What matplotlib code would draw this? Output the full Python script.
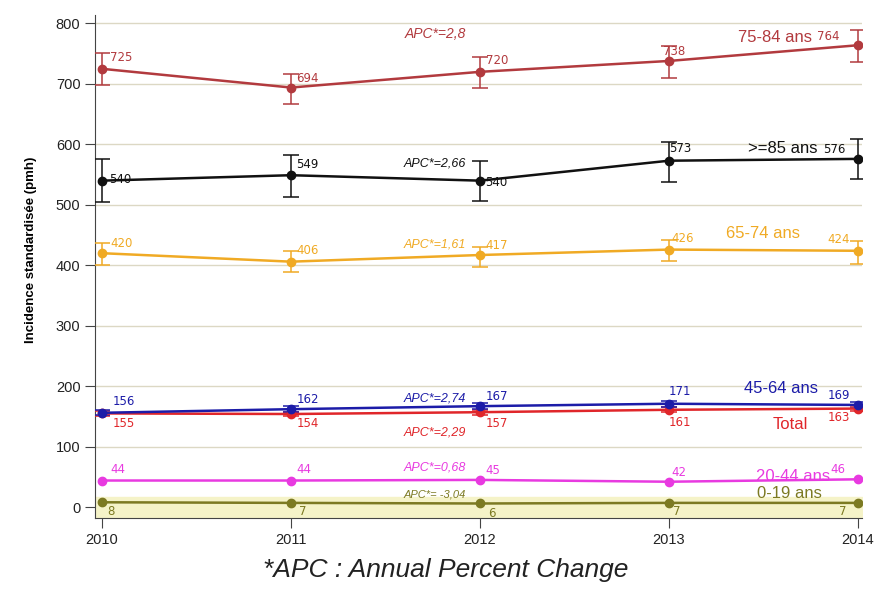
import matplotlib
matplotlib.use("Agg")
import matplotlib.pyplot as plt
import numpy as np

plt.rcParams["font.family"] = ["Liberation Sans", "DejaVu Sans"]

years = [2010, 2011, 2012, 2013, 2014]

# incidence standardisee (pmh) par classe d'age, avec IC
age_75_84 = [725, 694, 720, 738, 764]
age_75_84_lo = [698, 666, 694, 710, 736]
age_75_84_hi = [751, 716, 744, 762, 789]

age_85 = [540, 549, 540, 573, 576]
age_85_lo = [504, 513, 507, 537, 542]
age_85_hi = [576, 582, 572, 604, 609]

age_65_74 = [420, 406, 417, 426, 424]
age_65_74_lo = [401, 389, 398, 407, 402]
age_65_74_hi = [437, 423, 430, 442, 440]

age_45_64 = [156, 162, 167, 171, 169]
age_45_64_lo = [152, 157, 162, 166, 164]
age_45_64_hi = [160, 167, 172, 176, 174]

total = [155, 154, 157, 161, 163]
total_lo = [151, 150, 153, 157, 159]
total_hi = [159, 158, 161, 165, 167]

age_20_44 = [44, 44, 45, 42, 46]
age_0_19 = [8, 7, 6, 7, 7]
age_0_19_band = [-16, 17]

apc_labels = ["APC*=2,8", "APC*=2,66", "APC*=1,61", "APC*=2,74",
              "APC*=2,29", "APC*=0,68", "APC*= -3,04"]
series_names = ["75-84 ans", ">=85 ans", "65-74 ans", "45-64 ans",
                "Total", "20-44 ans", "0-19 ans"]

C_7584 = "#b23a3e"
C_85 = "#111111"
C_6574 = "#f0aa24"
C_4564 = "#1c1ca8"
C_TOT = "#e0262a"
C_2044 = "#e83ae0"
C_019 = "#7c7a22"

fig = plt.figure(figsize=(8.74, 5.89), dpi=100)
ax = fig.add_axes([95 / 874, 1 - 518 / 589, 767 / 874, 503 / 589])

ax.set_xlim(2009.963, 2014.021)
ax.set_ylim(-18, 814)
ax.set_yticks(range(0, 801, 100))
ax.set_xticks(years)
for y in range(100, 801, 100):
    ax.axhline(y, color="#dcd8c4", lw=1.0, zorder=0)

ax.fill_between([2009.963, 2014.021], age_0_19_band[0], age_0_19_band[1],
                color="#f5f3c8", zorder=0)


def draw(vals, color, lo=None, hi=None, z=3):
    if lo is not None:
        err = [np.array(vals) - np.array(lo), np.array(hi) - np.array(vals)]
        ax.errorbar(years, vals, yerr=err, fmt="none", ecolor=color,
                    elinewidth=1.1, capsize=6, capthick=1.1, zorder=z)
    ax.plot(years, vals, color=color, lw=1.8, marker="o", ms=6, zorder=z + 1)


def values(vals, color, offsets):
    # last point of each series gets its label on the left side
    for i, (x, v, (dx, dy)) in enumerate(zip(years, vals, offsets)):
        ha = "right" if i == len(years) - 1 else "left"
        ax.annotate(str(v), (x, v), xytext=(dx, dy), textcoords="offset points",
                    ha=ha, va="center", fontsize=8.5, color=color,
                    family="DejaVu Sans")


draw(age_0_19, C_019)
draw(age_20_44, C_2044)
draw(total, C_TOT, total_lo, total_hi)
draw(age_45_64, C_4564, age_45_64_lo, age_45_64_hi)
draw(age_65_74, C_6574, age_65_74_lo, age_65_74_hi)
draw(age_85, C_85, age_85_lo, age_85_hi)
draw(age_75_84, C_7584, age_75_84_lo, age_75_84_hi)

values(age_75_84, C_7584, [(6, 8), (4, 6.5), (4, 8), (-4, 7), (-13, 6.5)])
values(age_85, C_85, [(5, 1), (4, 8), (4, -1), (0, 9), (-9, 6.5)])
values(age_65_74, C_6574, [(6, 7), (4, 8), (4, 7), (2, 8), (-6, 8)])
values(age_45_64, C_4564, [(8, 8), (4, 7), (4, 7), (0, 9), (-6, 7)])
values(total, C_TOT, [(8, -7), (4, -7), (4, -8), (0, -9), (-6, -6.5)])
values(age_20_44, C_2044, [(6, 8), (4, 8), (4, 7), (2, 6.5), (-9, 7)])
values(age_0_19, C_019, [(4, -6.5), (6, -6.5), (6, -7), (3, -6.5), (-8, -6.5)])

apc_y = [783, 568, 434, 180, 124, 65, 21]
apc_sizes = [10, 9, 9, 9, 9, 9, 8]
apc_colors = [C_7584, C_85, C_6574, C_4564, C_TOT, C_2044, C_019]
for txt, yv, fs, c in zip(apc_labels, apc_y, apc_sizes, apc_colors):
    ax.text(2011.925, yv, txt, ha="right", va="center", fontsize=fs,
            style="italic", color=c)

name_pos = [(2013.757, 777), (2013.783, 594), (2013.693, 452), (2013.788, 197),
            (2013.735, 136), (2013.852, 51), (2013.810, 23)]
name_colors = [C_7584, C_85, C_6574, C_4564, C_TOT, C_2044, C_019]
for txt, (xv, yv), c in zip(series_names, name_pos, name_colors):
    ax.text(xv, yv, txt, ha="right", va="center", fontsize=12, color=c)

for side in ("top", "right"):
    ax.spines[side].set_visible(False)
ax.spines["left"].set_color("#444444")
ax.spines["bottom"].set_color("#444444")
ax.tick_params(axis="both", direction="out", length=7, color="#444444",
               labelsize=10.5, colors="#222222")
ax.tick_params(axis="x", pad=4)
ax.set_ylabel("Incidence standardisée (pmh)", fontsize=9.5, fontweight="bold")
ax.yaxis.set_label_coords(-58 / 767, (518 - 250) / 503)

fig.text(446 / 874, 1 - 570 / 589, "*APC : Annual Percent Change", ha="center",
         va="center", fontsize=19, style="italic", color="#222222")

fig.savefig("out.png", dpi=100, facecolor="white")
